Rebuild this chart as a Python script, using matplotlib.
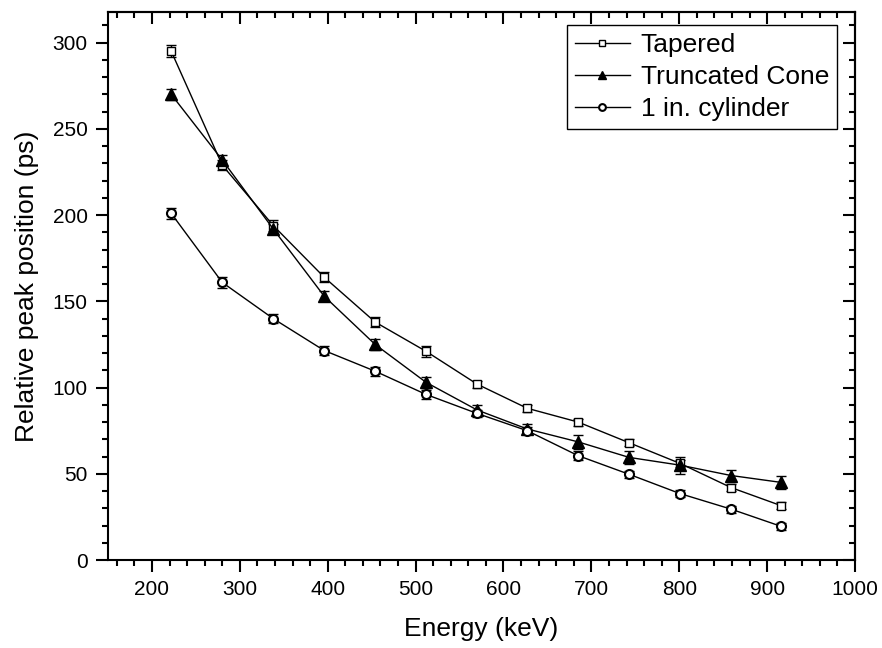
import matplotlib
matplotlib.use("Agg")
import matplotlib.pyplot as plt
from matplotlib.ticker import MultipleLocator, NullFormatter

plt.rcParams['font.family'] = ['Liberation Sans', 'DejaVu Sans']

# ---- data ----
energy = [222, 280, 338, 396, 454, 512, 570, 627, 685, 743, 801, 859, 916]

tapered = [295, 229, 194, 164, 138, 121, 102, 88, 80, 68, 56, 42, 31.5]
tapered_err = [3.5, 3, 3, 3, 3, 3, 2, 2, 2, 2, 2, 2, 2]

cone = [270, 232, 192, 153, 125, 103, 87, 76, 68.5, 59.5, 55, 49, 45]
cone_err = [3, 3, 3, 3, 3, 3, 3, 3, 4, 4, 5, 3, 4]

cyl = [201, 161, 140, 121.5, 109.5, 96, 85, 75, 60.5, 49.7, 38.5, 29.5, 19.5]
cyl_err = [3, 3, 2.5, 2.5, 2.5, 2.5, 2, 2, 2.5, 2, 2, 2, 2]

labels = ["Tapered", "Truncated Cone", "1 in. cylinder"]
xlabel = "Energy (keV)"
ylabel = "Relative peak position (ps)"

W, H = 882, 648
fig = plt.figure(figsize=(W / 100, H / 100), dpi=100)
ax = fig.add_axes([108 / W, (H - 560) / H, (855 - 108) / W, (560 - 11.7) / H])

# error bars
for y, e in [(tapered, tapered_err), (cone, cone_err), (cyl, cyl_err)]:
    ax.errorbar(energy, y, yerr=e, fmt='none', ecolor='black', elinewidth=1,
                capsize=3.8, capthick=1, zorder=2)

ax.plot(energy, tapered, color='black', lw=1, marker='s', ms=6, mfc='white',
        mec='black', mew=1, label=labels[0], zorder=3)
ax.plot(energy, cone, color='black', lw=1, marker='^', ms=8, mfc='black',
        mec='black', mew=1, label=labels[1], zorder=3)
ax.plot(energy, cyl, color='black', lw=1, marker='o', ms=6.5, mfc='white',
        mec='black', mew=1.5, label=labels[2], zorder=3)

ax.set_xlim(150, 1000)
ax.set_ylim(0, 318)
ax.xaxis.set_major_locator(MultipleLocator(100))
ax.xaxis.set_minor_locator(MultipleLocator(20))
ax.yaxis.set_major_locator(MultipleLocator(50))
ax.yaxis.set_minor_locator(MultipleLocator(10))

for s in ax.spines.values():
    s.set_linewidth(1.5)

ax.tick_params(axis='both', which='major', direction='out', length=8.5, width=1.5,
               labelsize=15, pad=6)
ax.tick_params(axis='both', which='minor', direction='out', length=4.3, width=1.5)
ax.tick_params(top=False, right=False)

secx = ax.secondary_xaxis('top')
secx.xaxis.set_major_locator(MultipleLocator(100))
secx.xaxis.set_minor_locator(MultipleLocator(20))
secx.xaxis.set_major_formatter(NullFormatter())
secx.tick_params(which='major', direction='in', length=8.5, width=1.5)
secx.tick_params(which='minor', direction='in', length=4.3, width=1.5)
secx.spines['top'].set_linewidth(1.5)

secy = ax.secondary_yaxis('right')
secy.yaxis.set_major_locator(MultipleLocator(50))
secy.yaxis.set_minor_locator(MultipleLocator(10))
secy.yaxis.set_major_formatter(NullFormatter())
secy.tick_params(which='major', direction='in', length=8.5, width=1.5)
secy.tick_params(which='minor', direction='in', length=4.3, width=1.5)
secy.spines['right'].set_linewidth(1.5)

ax.set_xlabel(xlabel, fontsize=19)
ax.set_ylabel(ylabel, fontsize=19)
ax.xaxis.set_label_coords(0.5, -0.104)
ax.yaxis.set_label_coords(-0.0924, 0.5)

leg = ax.legend(loc='upper right', bbox_to_anchor=(0.9759, 0.9757), borderaxespad=0,
                fontsize=19, frameon=True, fancybox=False, framealpha=1,
                edgecolor='black', handlelength=2.1, handletextpad=0.4,
                borderpad=0.3, labelspacing=0.3, markerscale=0.75)
leg.get_frame().set_linewidth(1)

fig.savefig("out.png", dpi=100)
